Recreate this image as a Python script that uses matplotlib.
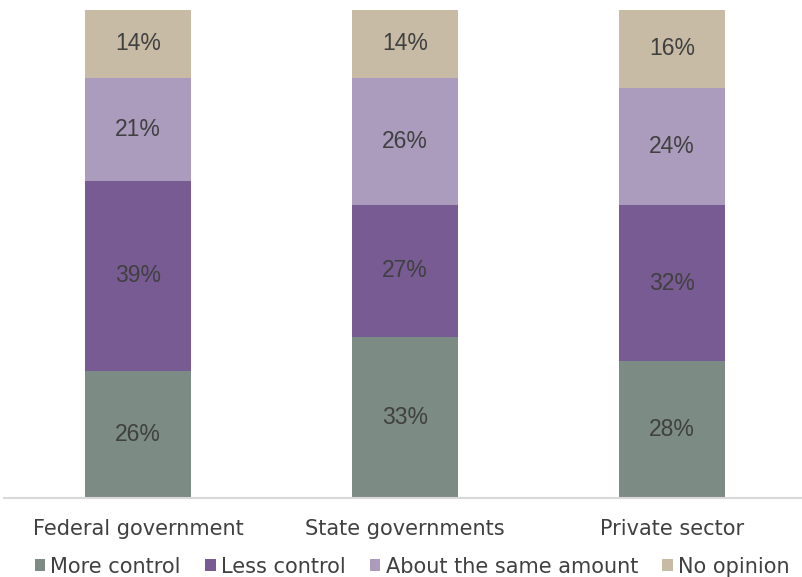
import numpy as np
import matplotlib.pyplot as plt

categories = ['Federal government', 'State governments', 'Private sector']
series_names = ['More control', 'Less control', 'About the same amount', 'No opinion']
more_control = [26, 33, 28]
less_control = [39, 27, 32]
same_amount = [21, 26, 24]
no_opinion = [14, 14, 16]

colors = ['#7c8b83', '#775b92', '#ab9cbe', '#c8bba5']
series = [more_control, less_control, same_amount, no_opinion]

fig = plt.figure(figsize=(8.02, 5.77), dpi=100)
ax = fig.add_axes([0.0056, 0.137, 0.9988, 0.846])

x = np.arange(len(categories))
bottom = np.zeros(len(categories))
for name, vals, col in zip(series_names, series, colors):
    vals = np.array(vals, dtype=float)
    ax.bar(x, vals, 0.4, bottom=bottom, color=col, label=name)
    for xi, b, v in zip(x, bottom, vals):
        ax.text(xi, b + v / 2, f'{int(v)}%', ha='center', va='center',
                fontsize=16.5, color='#404040', family='Liberation Sans')
    bottom += vals

ax.set_xlim(-0.5, 2.5)
ax.set_ylim(0, 100)
ax.set_yticks([])
for s in ['top', 'right', 'left']:
    ax.spines[s].set_visible(False)
ax.spines['bottom'].set_color('#d9d9d9')
ax.spines['bottom'].set_linewidth(1.5)
ax.set_xticks(x)
ax.set_xticklabels(categories, fontsize=15, color='#404040')
ax.tick_params(axis='x', length=0, pad=15)

fig.legend(loc='lower center', bbox_to_anchor=(0.514, -0.032), ncol=4, frameon=False,
           fontsize=15, handlelength=0.5, handleheight=0.5, handletextpad=0.25,
           columnspacing=1.17, labelcolor='#404040')

fig.savefig('out.png', dpi=100)
